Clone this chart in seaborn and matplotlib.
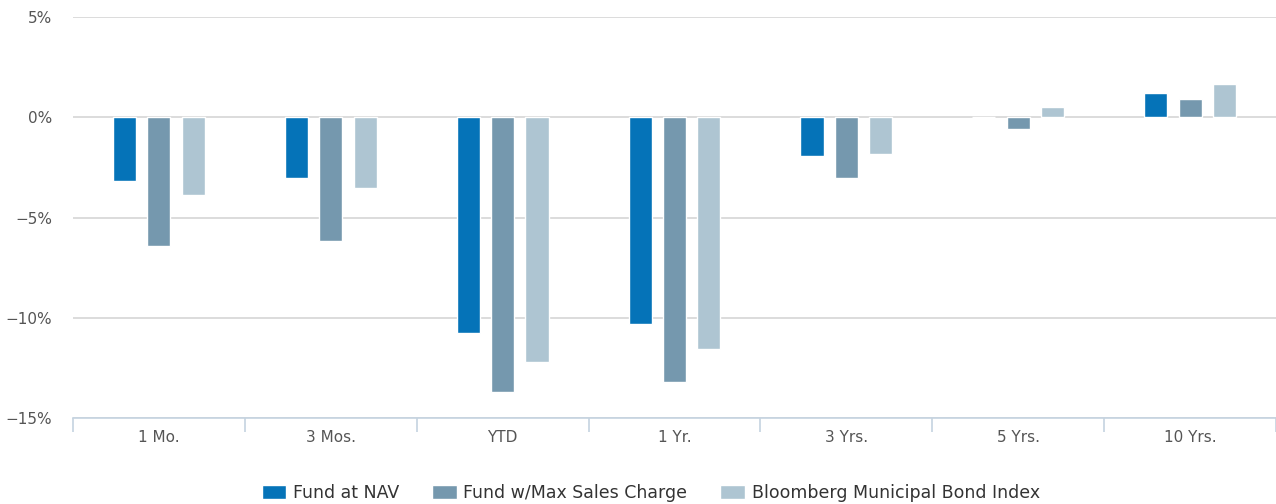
import pandas as pd
import matplotlib.pyplot as plt
import seaborn as sns
from matplotlib.ticker import FixedLocator, FuncFormatter

# Data (% returns)
periods = ["1 Mo.", "3 Mos.", "YTD", "1 Yr.", "3 Yrs.", "5 Yrs.", "10 Yrs."]
fund_nav = [-3.18, -3.05, -10.75, -10.3, -1.95, 0.02, 1.23]
fund_max = [-6.4, -6.15, -13.7, -13.2, -3.05, -0.58, 0.9]
muni_index = [-3.9, -3.55, -12.2, -11.55, -1.85, 0.5, 1.67]
series_names = ["Fund at NAV", "Fund w/Max Sales Charge", "Bloomberg Municipal Bond Index"]
colors = ["#0573b8", "#7598ae", "#aec5d2"]

df = pd.DataFrame({"Period": periods * 3,
                   "Return": fund_nav + fund_max + muni_index,
                   "Series": [s for s in series_names for _ in periods]})

sns.set_style("white")
plt.rcParams["font.family"] = ["DejaVu Sans"]

fig = plt.figure(figsize=(12.76, 5.04), dpi=100)
ax = fig.add_axes([73 / 1276, 1 - 418 / 504, 1 - 73 / 1276, (418 - 17) / 504])

sns.barplot(data=df, x="Period", y="Return", hue="Series", order=periods,
            hue_order=series_names, palette=colors, saturation=1, width=0.6, gap=0.33,
            edgecolor="white", linewidth=1, ax=ax, legend=True, zorder=3)

ax.set_ylim(-15, 5)
ax.set_xlim(-0.5, len(periods) - 0.5)
ax.set_yticks([5, 0, -5, -10, -15])
ax.yaxis.set_major_formatter(FuncFormatter(lambda v, p: f"{int(v)}%".replace("-", "\u2212")))
ax.grid(axis="y", color="#d6d6d6", linewidth=1.2, zorder=0)
ax.set_axisbelow(True)
for s in ["top", "right", "left"]:
    ax.spines[s].set_visible(False)
ax.spines["bottom"].set_color("#c5d3e0")
ax.spines["bottom"].set_linewidth(1.2)

ax.tick_params(axis="y", length=0, pad=15, labelsize=11, labelcolor="#555555")
ax.tick_params(axis="x", which="major", bottom=True, length=0, pad=9, labelsize=11,
               labelcolor="#555555")
ax.xaxis.set_minor_locator(FixedLocator([i - 0.5 for i in range(len(periods) + 1)]))
ax.tick_params(axis="x", which="minor", bottom=True, length=10, width=1.2, color="#c5d3e0")
ax.set_xlabel("")
ax.set_ylabel("")

handles, labels = ax.get_legend_handles_labels()
ax.get_legend().remove()
fig.legend(handles, labels, loc="center", bbox_to_anchor=(0.51, 0.022), ncol=3,
           frameon=False, fontsize=12.5, handlelength=1.4, handleheight=0.8,
           columnspacing=1.9, handletextpad=0.4, labelcolor="#333333")

fig.savefig("out.png", dpi=100)
